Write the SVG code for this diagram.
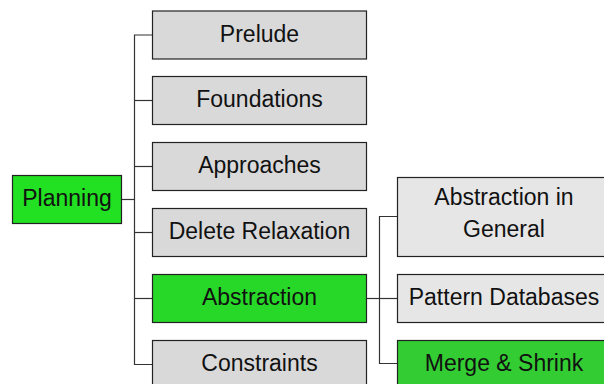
<svg xmlns="http://www.w3.org/2000/svg" width="604" height="384" viewBox="0 0 604 384">
  <style>
    .box { stroke: #222; stroke-width: 1.2; }
    .root { fill: #22e022; }
    .hl { fill: #28d828; }
    .hl2 { fill: #33cc33; }
    .l1 { fill: #d9d9d9; }
    .l2 { fill: #e6e6e6; }
    .lbl { font-family: "Liberation Sans", Arial, sans-serif; font-size: 23px; fill: #111; text-anchor: middle; }
    .conn { fill: none; stroke: #333; stroke-width: 1.2; }
  </style>
  <rect width="604" height="384" fill="#fff"/>

  <!-- tree connectors -->
  <g id="connectors">
    <path class="conn" d="M121.5 199.5 H134.5"/>
    <path class="conn" d="M152 35 H134.5 V364.5 H152"/>
    <path class="conn" d="M134.5 100.5 H152"/>
    <path class="conn" d="M134.5 166.5 H152"/>
    <path class="conn" d="M134.5 232.5 H152"/>
    <path class="conn" d="M134.5 298.5 H152"/>
    <path class="conn" d="M366 298.5 H397"/>
    <path class="conn" d="M397 216.5 H379.5 V363.5 H397"/>
  </g>

  <g id="planning">
    <rect class="box root" x="12.5" y="175.5" width="109" height="48"/>
    <text class="lbl" x="67" y="206">Planning</text>
  </g>

  <g id="prelude">
    <rect class="box l1" x="152.5" y="11" width="214" height="48"/>
    <text class="lbl" x="259.5" y="41.5">Prelude</text>
  </g>
  <g id="foundations">
    <rect class="box l1" x="152.5" y="76.5" width="214" height="48"/>
    <text class="lbl" x="259.5" y="107">Foundations</text>
  </g>
  <g id="approaches">
    <rect class="box l1" x="152.5" y="142.5" width="214" height="48"/>
    <text class="lbl" x="259.5" y="173">Approaches</text>
  </g>
  <g id="delete-relaxation">
    <rect class="box l1" x="152.5" y="208.5" width="214" height="48"/>
    <text class="lbl" x="259.5" y="239">Delete Relaxation</text>
  </g>
  <g id="abstraction">
    <rect class="box hl" x="152.5" y="274.5" width="214" height="48"/>
    <text class="lbl" x="259.5" y="305">Abstraction</text>
  </g>
  <g id="constraints">
    <rect class="box l1" x="152.5" y="340.5" width="214" height="48"/>
    <text class="lbl" x="259.5" y="371">Constraints</text>
  </g>

  <g id="abstraction-in-general">
    <rect class="box l2" x="397.5" y="177.5" width="214" height="79"/>
    <text class="lbl" x="504" y="205">Abstraction in</text>
    <text class="lbl" x="504" y="237">General</text>
  </g>
  <g id="pattern-databases">
    <rect class="box l2" x="397.5" y="274.5" width="214" height="48"/>
    <text class="lbl" x="504" y="305">Pattern Databases</text>
  </g>
  <g id="merge-and-shrink">
    <rect class="box hl2" x="397.5" y="340.5" width="214" height="48"/>
    <text class="lbl" x="504" y="371">Merge &amp; Shrink</text>
  </g>
</svg>
